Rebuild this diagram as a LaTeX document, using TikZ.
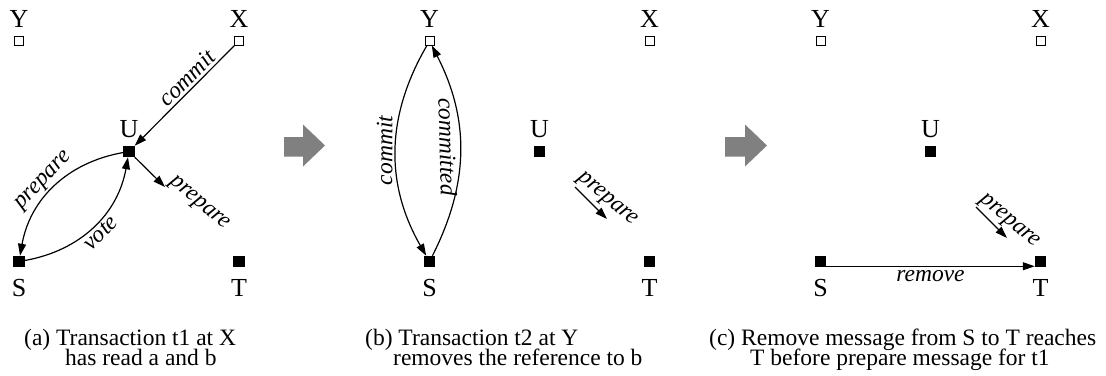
\documentclass[tikz,border=0pt]{standalone}
\usepackage{fontspec}
\setmainfont{Liberation Serif}
\usetikzlibrary{arrows.meta,calc}
\definecolor{bigarrowgray}{RGB}{128,128,128}
\begin{document}
\begin{tikzpicture}[x=1bp,y=-1bp,
  openbox/.style={draw, fill=white, line width=1bp, minimum size=9bp, inner sep=0pt, outer sep=0pt},
  fullbox/.style={fill=black, minimum size=11.5bp, inner sep=0pt, outer sep=0pt},
  sitename/.style={font=\fontsize{26bp}{30bp}\selectfont, inner sep=0pt, anchor=base},
  msgtext/.style={font=\fontsize{23.5bp}{26bp}\selectfont\itshape, inner sep=2.5bp},
  msgarrow/.style={line width=1.2bp, -{Triangle[length=12bp,width=8bp]}},
  captionline/.style={font=\fontsize{23.5bp}{26bp}\selectfont, inner sep=0pt, anchor=base west},
  bigarrow/.style={fill=bigarrowgray, draw=none}]
\useasboundingbox (0,0) rectangle (1106,375);
\foreach \p/\ox in {a/19,b/429.5,c/820.5}{
  \node[openbox] (\p Y) at (\ox,41) {};
  \node[openbox] (\p X) at (\ox+220,41) {};
  \node[fullbox] (\p U) at (\ox+110,151.5) {};
  \node[fullbox] (\p S) at (\ox,261.5) {};
  \node[fullbox] (\p T) at (\ox+220,261.5) {};
  \node[sitename] (\p Yname) at (\ox,27) {Y};
  \node[sitename] (\p Xname) at (\ox+220,27) {X};
  \node[sitename] (\p Uname) at (\ox+110,137) {U};
  \node[sitename] (\p Sname) at (\ox,296) {S};
  \node[sitename] (\p Tname) at (\ox+220,296) {T};
}
% panel (a)
\draw[msgarrow] (aX) -- node[msgtext, sloped, above, pos=0.4] (acommit) {commit} (aU);
\draw[msgarrow] (aU) to[bend right=35] node[msgtext, sloped, above, pos=0.52] (aprep) {prepare} (aS);
\draw[msgarrow] (aS) to[bend right=35] node[msgtext, sloped, below, pos=0.5] (avote) {vote} (aU);
\coordinate (aPend) at (165,187);
\draw[msgarrow] (aU) -- (aPend);
\node[msgtext, rotate=-40, inner sep=0pt] (aprep2) at (199,204) {prepare};
% panel (b)
\draw[msgarrow] (bY) to[bend right=30] node[msgtext, sloped, above, pos=0.5] (bcommit) {commit} (bS);
\draw[msgarrow] (bS) to[bend right=27] node[msgtext, sloped, below, pos=0.52, inner sep=3.5bp] (bcommitted) {committed} (bY);
\coordinate (bPstart) at (575,187);
\coordinate (bPend) at (607,219);
\draw[msgarrow] (bPstart) -- (bPend);
\node[msgtext, rotate=-40, inner sep=0pt] (bprep) at (607,200) {prepare};
% panel (c)
\coordinate (cPstart) at (976,207);
\coordinate (cPend) at (1007,238);
\draw[msgarrow] (cPstart) -- (cPend);
\node[msgtext, rotate=-40, inner sep=0pt] (cprep) at (1009,222) {prepare};
\draw[msgarrow] ([yshift=1bp]cS.south east) -- node[msgtext, below, inner sep=3.5bp] (cremove) {remove} ([yshift=1bp]cT.south west);
% big arrows
\fill[bigarrow] (284,137) -- (303,137) -- (303,124.5) -- (325,145.5) -- (303,166.5) -- (303,156.5) -- (284,156.5) -- cycle;
\fill[bigarrow] (725,137) -- (745,137) -- (745,124.5) -- (767,145.5) -- (745,166.5) -- (745,156.5) -- (725,156.5) -- cycle;
% captions
\node[captionline] (capa1) at (24,345) {(a) Transaction t1 at X};
\node[captionline] (capa2) at (65,365) {has read a and b};
\node[captionline] (capb1) at (365,345) {(b) Transaction t2 at Y};
\node[captionline] (capb2) at (393,365) {removes the reference to b};
\node[captionline] (capc1) at (709,345) {(c) Remove message from S to T reaches};
\node[captionline] (capc2) at (750,365) {T before prepare message for t1};
\end{tikzpicture}
\end{document}
